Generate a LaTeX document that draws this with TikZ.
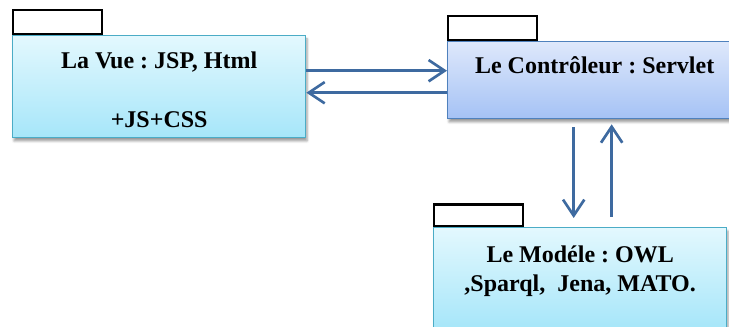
\documentclass[tikz,border=0pt]{standalone}
\usepackage{fontspec}
\setmainfont{Liberation Serif}
\usepackage{tikz}
\usetikzlibrary{arrows.meta, positioning, calc, shadows.blur}
\usepackage{xcolor}
\frenchspacing
\definecolor{mcyanedge}{HTML}{4BACC6}
\definecolor{mcyantop}{HTML}{E3F8FE}
\definecolor{mcyanbot}{HTML}{A6E6F9}
\definecolor{mblueedge}{HTML}{4F81BD}
\definecolor{mbluetop}{HTML}{DEE8FB}
\definecolor{mbluebot}{HTML}{A5C2F5}
\definecolor{marrow}{HTML}{3E6AA0}
\tikzset{
  cbox/.style={draw=mcyanedge, line width=1pt, top color=mcyantop, bottom color=mcyanbot,
               blur shadow={shadow xshift=1pt, shadow yshift=-2.5pt, shadow opacity=40},
               anchor=north west, inner sep=0pt},
  bbox/.style={draw=mblueedge, line width=1pt, top color=mbluetop, bottom color=mbluebot,
               blur shadow={shadow xshift=1pt, shadow yshift=-2.5pt, shadow opacity=40},
               anchor=north west, inner sep=0pt},
  tabbox/.style={draw=black, line width=1.8pt, fill=white, anchor=south west,
                 minimum width=66.75pt, minimum height=18pt, inner sep=0pt},
  btext/.style={font=\fontsize{18}{21}\selectfont\bfseries, align=center,
                anchor=north, inner sep=0pt},
  arr/.style={-{Straight Barb[length=12pt, width=16pt]}, line width=2pt, marrow},
}

\begin{document}
\begin{tikzpicture}[x=0.75pt, y=-0.75pt]
  \useasboundingbox (0,0) rectangle (729,327);
  \clip (0,0) rectangle (729,327);

  % la vue
  \node[cbox, minimum width=219.75pt, minimum height=76.5pt] (vue) at (12,35) {};
  \node[tabbox] (vuetab) at (vue.north west) {};
  \node[btext] (vuetxt) at ([yshift=-12.5pt]vue.north) {La Vue : JSP, Html\\[23pt]+JS+CSS};

  % le controleur
  \node[bbox, minimum width=220.5pt, minimum height=57.75pt] (ctrl) at (447,41) {};
  \node[tabbox] (ctrltab) at (ctrl.north west) {};
  \node[btext] (ctrltxt) at ([yshift=-11.4pt]ctrl.north) {Le Contrôleur : Servlet};

  % le modele
  \node[cbox, minimum width=219.75pt, minimum height=76.5pt] (model) at (433,227) {};
  \node[tabbox, minimum height=16pt] (modeltab) at (model.north west) {};
  \node[btext] (modeltxt) at ([yshift=-14pt]model.north)
    {Le Modéle : OWL\\[1pt],Sparql,\ \ Jena, MATO.};

  % liaisons
  \coordinate (c1) at ([yshift=7.1pt]ctrl.west);
  \coordinate (c2) at ([yshift=-9.4pt]ctrl.west);
  \draw[arr] (vue.east |- c1) -- (c1);
  \draw[arr] (c2) -- (vue.east |- c2);

  \coordinate (c3) at ([xshift=-15.75pt]ctrl.south);
  \coordinate (c4) at ([xshift=12.75pt]ctrl.south);
  \draw[arr, shorten <=6pt, shorten >=6.75pt] (c3) -- (c3 |- model.north);
  \draw[arr, shorten <=7.5pt, shorten >=3.75pt] (c4 |- model.north) -- (c4);
\end{tikzpicture}
\end{document}
